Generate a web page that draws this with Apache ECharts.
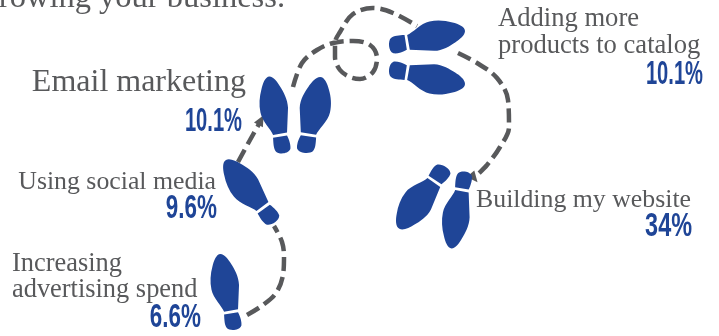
<!DOCTYPE html>
<html>
<head>
<meta charset="utf-8">
<script src="https://cdn.jsdelivr.net/npm/echarts@6/dist/echarts.min.js"></script>
<style>html,body{margin:0;padding:0;background:#fff}#c{width:719px;height:336px}</style>
</head>
<body>
<div id="c"></div>
<script>
// Survey answers, from first step to last
const categories = ['Increasing\nadvertising spend', 'Using social media', 'Email marketing', 'Adding more\nproducts to catalog', 'Building my website'];
const shares = [6.6, 9.6, 10.1, 10.1, 34];
const headline = 'growing your business.';

// Trail of footprints: [x, y] on the page-sized hidden axes
const trailBottom = [[247,315],[263,305],[276,293],[283,275],[284,257],[282,242],[274,226]];
const trailSocial = [[238,162],[250,140],[259,124]];
const trailEmail = [[293,87],[302,63],[317,50],[333,43],[353,41],[370,45],[377,58],[373,72],[360,79],[350,77],[340,70],[335,57],[335,43],[340,32],[353,14],[373,8],[393,13],[417,26]];
const trailCatalog = [[458,53],[477,63],[497,78],[508,100],[509,127],[500,147],[487,165],[477,175]];

const soleLeft = 'path://M30,0C42,0 54,16 62,30C72,46 85,68 86,94L83,168L41,176C36,160 8,135 3,108C-2,85 0,60 6,38C10,20 18,0 30,0ZM41,184L83,177C90,190 95,208 93,218C86,234 58,234 50,226C42,216 42,200 41,184Z';
const soleRight = 'path://M63,0C51,0 39,16 31,30C21,46 8,68 7,94L10,168L52,176C57,160 85,135 90,108C95,85 93,60 87,38C83,20 75,0 63,0ZM52,184L10,177C3,190 -2,208 0,218C7,234 35,234 43,226C51,216 51,200 52,184Z';

// Footprints: foot outline, centre, rotation, breadth, length
const prints = [
  [soleLeft, 226, 292, 0, 31, 76],
  [soleLeft, 249, 192, 27, 33, 78],
  [soleLeft, 275, 115, 0, 31, 77],
  [soleRight, 314, 115, 0, 34, 76],
  [soleLeft, 427, 37, -90, 33, 76],
  [soleRight, 427, 78, -90, 33, 76],
  [soleRight, 421, 197, 155, 34, 76],
  [soleRight, 457, 210, 180, 30, 77]
];
// Arrow tips on the trail: x, y, rotation
const arrows = [[261,120,-28],[474,178,-140]];

// Where each answer's name and share sit, same order as categories
const nameAnchors = [[12,277],[216,182],[246,83],[498,32.5],[691,200]];
const nameAligns = ['left','right','right','left','right'];
const nameSizes = [26.4,25.8,32,26.6,25.8];
const nameLeading = [26,26,26,27,26];
const shareAnchors = [[201,317.5],[217,208.5],[242,122],[703,75],[692,227]];
const shareStretch = [0.68,0.68,0.61,0.61,0.71];

const trailLine = d => ({
  type:'line', data:d, smooth:0.35, symbol:'none', silent:true, clip:false,
  lineStyle:{color:'#58595b', width:4.5, type:[14,6]}
});

const chart = echarts.init(document.getElementById('c'));
chart.setOption({
  animation:false,
  backgroundColor:'#fff',
  grid:{left:0,right:0,top:0,bottom:0},
  xAxis:{type:'value',min:0,max:719,show:false},
  yAxis:{type:'value',min:0,max:336,inverse:true,show:false},
  graphic:[{type:'text', x:285, y:15, style:{text:headline, align:'right', verticalAlign:'bottom',
    font:'32.5px "Liberation Serif"', fill:'#58595b'}}],
  series:[
    trailLine(trailBottom), trailLine(trailSocial), trailLine(trailEmail), trailLine(trailCatalog),
    {type:'scatter', silent:true, z:3,
     data:arrows.map(a=>({value:[a[0],a[1]],symbol:'triangle',symbolSize:[10,11],symbolRotate:a[2]})),
     itemStyle:{color:'#58595b',opacity:1}},
    {type:'scatter', silent:true, z:4,
     data:prints.map(p=>({value:[p[1],p[2]],symbol:p[0],symbolSize:[p[4],p[5]],symbolRotate:p[3]})),
     itemStyle:{color:'#1f4597',opacity:1}},
    {type:'scatter', silent:true, symbolSize:0, z:5, itemStyle:{opacity:1},
     data:categories.map((c,i)=>({
       value:nameAnchors[i], name:c,
       label:{show:true, position:'inside', formatter:c, align:nameAligns[i],
         verticalAlign:'middle', fontFamily:'Liberation Serif', fontSize:nameSizes[i], lineHeight:nameLeading[i], color:'#58595b', opacity:1}
     }))},
    {type:'custom', silent:true, z:5,
     data:shares.map((v,i)=>[shareAnchors[i][0],shareAnchors[i][1],i]),
     renderItem:(params,api)=>{
       const p=api.coord([api.value(0),api.value(1)]), i=api.value(2);
       return {type:'text', x:p[0], y:p[1], scaleX:shareStretch[i],
         style:{text:shares[i]+'%', align:'right', verticalAlign:'middle',
           font:'bold 33px "Liberation Sans"', fill:'#1f4597'}};
     }}
  ]
});
</script>
</body>
</html>
